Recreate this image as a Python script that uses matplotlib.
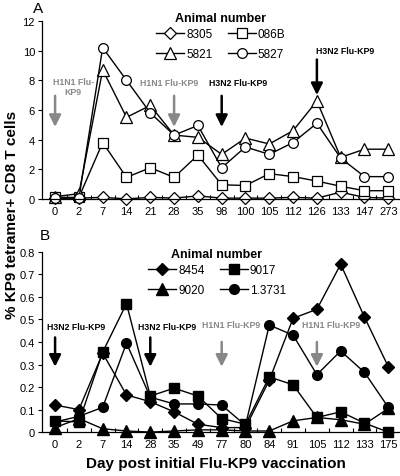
import numpy as np
import matplotlib
matplotlib.use("Agg")
import matplotlib.pyplot as plt
from matplotlib.ticker import FuncFormatter, FixedLocator

plt.rcParams['font.family'] = ['Liberation Sans', 'DejaVu Sans']

# ---- panel A data ----
days_a = ['0', '2', '7', '14', '21', '28', '35', '98', '100', '105', '112', '126', '133', '147', '273']
a_8305 = [0.05, 0.05, 0.1, 0.0, 0.1, 0.05, 0.2, 0.05, 0.05, 0.05, 0.1, 0.05, 0.45, 0.1, 0.05]
a_086B = [0.1, 0.1, 3.8, 1.45, 2.1, 1.45, 2.95, 0.95, 0.9, 1.7, 1.5, 1.2, 0.85, 0.55, 0.55]
a_5821 = [0.15, 0.35, 8.7, 5.5, 6.3, 4.3, 4.15, 3.0, 4.1, 3.7, 4.6, 6.6, 2.8, 3.35, 3.35]
a_5827 = [0.05, 0.05, 10.2, 8.0, 5.8, 4.3, 4.95, 2.1, 3.5, 3.0, 3.8, 5.1, 2.75, 1.5, 1.5]

# ---- panel B data ----
days_b = ['0', '2', '7', '14', '28', '35', '49', '77', '80', '84', '91', '105', '112', '133', '175']
b_8454 = [0.12, 0.1, 0.35, 0.165, 0.135, 0.09, 0.035, 0.02, 0.02, 0.23, 0.505, 0.545, 0.745, 0.51, 0.29]
b_9017 = [0.05, 0.045, 0.355, 0.57, 0.16, 0.195, 0.16, 0.06, 0.035, 0.245, 0.21, 0.065, 0.09, 0.04, 0.0]
b_9020 = [0.02, 0.06, 0.015, 0.005, 0.0, 0.005, 0.01, 0.01, 0.005, 0.005, 0.05, 0.065, 0.055, 0.035, 0.105]
b_13731 = [0.045, 0.07, 0.11, 0.395, 0.155, 0.125, 0.125, 0.12, 0.03, 0.475, 0.43, 0.255, 0.36, 0.265, 0.11]

GRAY = '#888888'

fig = plt.figure(figsize=(4.0, 4.77), dpi=100)
ax_a = fig.add_axes([0.105, 0.581, 0.8925, 0.373])
ax_b = fig.add_axes([0.105, 0.092, 0.8925, 0.378])


def style_axis(ax, labels):
    n = len(labels)
    ax.set_xlim(-0.55, n - 0.55)
    ax.spines['top'].set_visible(False)
    ax.spines['right'].set_visible(False)
    ax.set_xticks(np.arange(n))
    ax.set_xticklabels(labels, fontsize=8)
    ax.xaxis.set_minor_locator(FixedLocator(np.arange(n - 1) + 0.5))
    ax.tick_params(axis='x', which='major', length=0, pad=5)
    ax.tick_params(axis='x', which='minor', direction='in', length=3, width=0.8)
    ax.tick_params(axis='y', direction='out', length=3, width=0.8, labelsize=8, pad=2)
    for s in ax.spines.values():
        s.set_linewidth(0.9)


def arrow(ax, x, ytop, ybot, color):
    ax.annotate('', xy=(x, ybot), xytext=(x, ytop),
                arrowprops=dict(arrowstyle='-|>,head_width=0.35,head_length=0.7',
                                color=color, lw=1.8, shrinkA=0, shrinkB=0))


def label(ax, x, y, s, color):
    ax.text(x, y, s, color=color, fontsize=6.3, fontweight='bold',
            ha='center', va='center', linespacing=1.1)


def make_legend(ax, handles, x, y):
    leg = ax.legend(handles=handles, ncol=2, frameon=False,
                    loc='upper left', bbox_to_anchor=(x, y),
                    bbox_transform=fig.transFigure, fontsize=8.5,
                    title='Animal number', handlelength=2.4, handletextpad=0.15,
                    columnspacing=1.3, labelspacing=0.7, borderpad=0)
    leg.get_title().set_fontweight('bold')
    leg.get_title().set_fontsize(9)
    leg._legend_box.sep = 3
    return leg


# ---- panel A ----
xa = np.arange(len(days_a))
mk = dict(color='black', lw=1.0, markersize=7, markerfacecolor='white',
          markeredgecolor='black', markeredgewidth=0.9, clip_on=False)
l1, = ax_a.plot(xa, a_8305, marker='D', label='8305', **{**mk, 'markersize': 6})
l2, = ax_a.plot(xa, a_086B, marker='s', label='086B', **mk)
l3, = ax_a.plot(xa, a_5821, marker='^', label='5821', **{**mk, 'markersize': 8})
l4, = ax_a.plot(xa, a_5827, marker='o', label='5827', **mk)
ax_a.set_ylim(0, 12)
ax_a.set_yticks(np.arange(0, 13, 2))
style_axis(ax_a, days_a)

arrow(ax_a, 0, 6.95, 4.85, GRAY)
label(ax_a, 0.76, 7.6, 'H1N1 Flu-\nKP9', GRAY)
arrow(ax_a, 5, 6.95, 4.85, GRAY)
label(ax_a, 4.8, 7.85, 'H1N1 Flu-KP9', GRAY)
arrow(ax_a, 7, 6.95, 4.85, 'black')
label(ax_a, 7.7, 7.85, 'H3N2 Flu-KP9', 'black')
arrow(ax_a, 11, 9.4, 7.0, 'black')
label(ax_a, 12.2, 9.98, 'H3N2 Flu-KP9', 'black')

make_legend(ax_a, [l1, l3, l2, l4], 0.375, 0.985)

# ---- panel B ----
xb = np.arange(len(days_b))
mkb = dict(color='black', lw=1.0, markersize=7, markerfacecolor='black',
           markeredgecolor='black', clip_on=False)
m1, = ax_b.plot(xb, b_8454, marker='D', label='8454', **{**mkb, 'markersize': 6})
m2, = ax_b.plot(xb, b_9017, marker='s', label='9017', **mkb)
m3, = ax_b.plot(xb, b_9020, marker='^', label='9020', **{**mkb, 'markersize': 8})
m4, = ax_b.plot(xb, b_13731, marker='o', label='1.3731', **mkb)
ax_b.set_ylim(0, 0.8)
ax_b.set_yticks(np.arange(0, 0.81, 0.1))
ax_b.yaxis.set_major_formatter(FuncFormatter(lambda v, p: '0' if abs(v) < 1e-9 else f'{v:.1f}'))
style_axis(ax_b, days_b)

arrow(ax_b, 0, 0.42, 0.29, 'black')
label(ax_b, 0.9, 0.467, 'H3N2 Flu-KP9', 'black')
arrow(ax_b, 4, 0.42, 0.29, 'black')
label(ax_b, 4.7, 0.467, 'H3N2 Flu-KP9', 'black')
arrow(ax_b, 7, 0.40, 0.29, GRAY)
label(ax_b, 7.4, 0.477, 'H1N1 Flu-KP9', GRAY)
arrow(ax_b, 11, 0.40, 0.29, GRAY)
label(ax_b, 11.6, 0.477, 'H1N1 Flu-KP9', GRAY)

make_legend(ax_b, [m1, m3, m2, m4], 0.355, 0.491)

# panel letters and shared labels
fig.text(0.083, 0.995, 'A', fontsize=11, ha='left', va='top')
fig.text(0.1, 0.52, 'B', fontsize=11, ha='left', va='top')
fig.text(0.03, 0.55, '% KP9 tetramer+ CD8 T cells', rotation=90, fontsize=11,
         fontweight='bold', ha='center', va='center')
fig.text(0.54, 0.027, 'Day post initial Flu-KP9 vaccination', fontsize=11,
         fontweight='bold', ha='center', va='center')

fig.savefig('out.png', dpi=100)
